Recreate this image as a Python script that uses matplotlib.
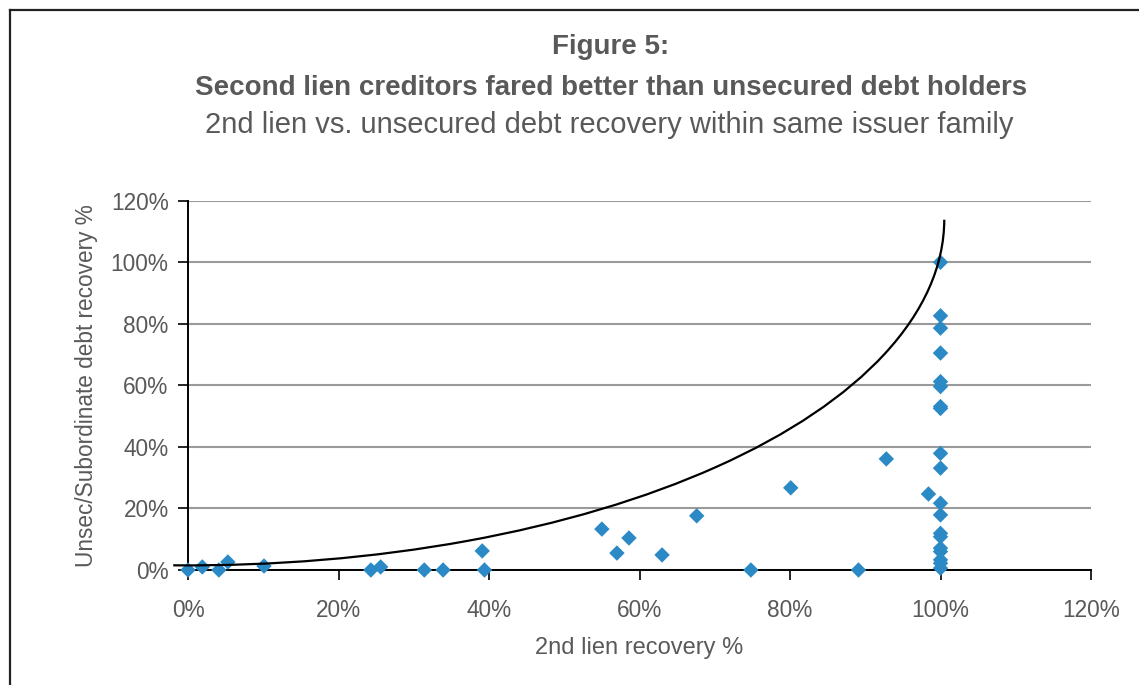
import numpy as np
import matplotlib
matplotlib.use("Agg")
import matplotlib.pyplot as plt
from matplotlib.patches import Arc
from matplotlib.lines import Line2D
from matplotlib.ticker import PercentFormatter

plt.rcParams["font.family"] = ["Liberation Sans", "DejaVu Sans"]

# 2nd lien recovery (%) vs unsecured / subordinate recovery (%)
second_lien = [0.0, 1.9, 4.1, 5.3, 10.1, 24.3, 25.6, 31.4, 33.9, 39.1, 39.4,
               55.0, 57.0, 58.6, 63.0, 67.6, 74.8, 80.1, 89.1, 92.8, 98.4,
               100, 100, 100, 100, 100, 100, 100, 100, 100, 100,
               100, 100, 100, 100, 100, 100, 100, 100, 100]
unsecured = [0.0, 1.0, 0.0, 2.6, 1.3, 0.0, 1.0, 0.0, 0.0, 6.2, 0.0,
             13.3, 5.5, 10.4, 4.9, 17.6, 0.0, 26.7, 0.0, 36.1, 24.7,
             100.0, 82.6, 78.6, 70.5, 61.2, 59.6, 53.1, 52.5, 37.9, 33.1,
             21.7, 17.9, 11.9, 10.8, 7.1, 6.0, 3.3, 2.2, 0.6]

# reference arc (hand-drawn frontier in the original)
arc_center = (0.0, 114.0)
arc_width = 201.0
arc_height = 225.0

grey = "#595959"

fig = plt.figure(figsize=(11.39, 6.85), dpi=100)
ax = fig.add_axes([188 / 1139, 1 - 570 / 685, 903 / 1139, 369.3 / 685])

ax.scatter(second_lien, unsecured, marker="D", s=62, color="#2B8AC6",
           edgecolors="none", zorder=3, clip_on=False)
ax.add_patch(Arc(arc_center, arc_width, arc_height, theta1=269.0, theta2=359.9,
                 color="black", lw=1.6, zorder=4, clip_on=False))

ax.set_xlim(0, 120)
ax.set_ylim(0, 120)
ax.set_xticks(np.arange(0, 121, 20))
ax.set_yticks(np.arange(0, 121, 20))
ax.xaxis.set_major_formatter(PercentFormatter(decimals=0))
ax.yaxis.set_major_formatter(PercentFormatter(decimals=0))
ax.grid(axis="y", color="#9a9a9a", lw=1.5)
ax.set_axisbelow(True)
for s in ["top", "right"]:
    ax.spines[s].set_visible(False)
for s in ["left", "bottom"]:
    ax.spines[s].set_color("black")
    ax.spines[s].set_linewidth(1.4)
ax.tick_params(direction="out", length=7, width=1.2, color="black",
               labelcolor=grey, labelsize=16.3)
ax.tick_params(axis="x", pad=14)
ax.tick_params(axis="y", pad=7)
ax.set_xlabel("2nd lien recovery %", fontsize=17, color=grey, labelpad=11)
ax.set_ylabel("Unsec/Subordinate debt recovery %", fontsize=16.3, color=grey,
              labelpad=9)

fig.text(611 / 1139, 1 - 47 / 685, "Figure 5:", ha="center", va="center",
         fontsize=20, fontweight="bold", color=grey)
fig.text(611 / 1139, 1 - 88 / 685,
         "Second lien creditors fared better than unsecured debt holders",
         ha="center", va="center", fontsize=20, fontweight="bold", color=grey)
fig.text(609 / 1139, 1 - 125 / 685,
         "2nd lien vs. unsecured debt recovery within same issuer family",
         ha="center", va="center", fontsize=21, color=grey)

# frame around the figure (top and left edges visible)
fig.add_artist(Line2D([10 / 1139, 10 / 1139], [0, 1 - 10 / 685],
                      transform=fig.transFigure, color="#222222", lw=1.6))
fig.add_artist(Line2D([10 / 1139, 1], [1 - 10 / 685, 1 - 10 / 685],
                      transform=fig.transFigure, color="#222222", lw=1.6))

fig.savefig("out.png", dpi=100)
